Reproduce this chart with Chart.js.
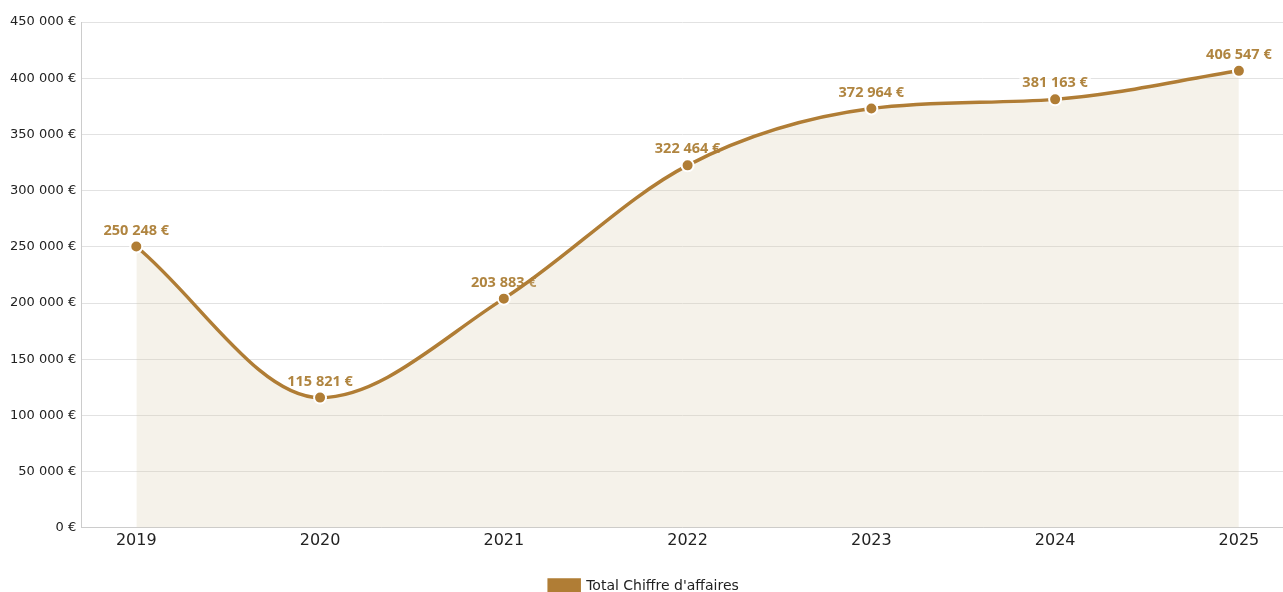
<!DOCTYPE html>
<html><head><meta charset="utf-8">
<script src="https://cdn.jsdelivr.net/npm/chart.js@4"></script>
<style>html,body{margin:0;padding:0;background:#fff;overflow:hidden}canvas{display:block;position:absolute;left:0;top:0}</style>
</head><body><canvas id="c" width="1283" height="592" style="width:1283px;height:592px"></canvas>
<script>
const years = [2019, 2020, 2021, 2022, 2023, 2024, 2025];
const revenue = [250248, 115821, 203883, 322464, 372964, 381163, 406547];
const yTicks = [0, 50000, 100000, 150000, 200000, 250000, 300000, 350000, 400000, 450000];
const seriesName = "Total Chiffre d'affaires";

const fmt = v => String(v).replace(/\B(?=(\d{3})+(?!\d))/g, '\u00A0') + '\u00A0€';
const fmtTick = v => String(v).replace(/\B(?=(\d{3})+(?!\d))/g, ' ') + ' €';

const labelPlugin = {
  id: 'vlabels',
  beforeDatasetsDraw(chart) {
    const ctx = chart.ctx;
    const meta = chart.getDatasetMeta(0);
    ctx.save();
    ctx.font = 'bold 14.5px "Open Sans"';
    ctx.textAlign = 'center';
    ctx.textBaseline = 'middle';
    meta.data.forEach((pt, i) => {
      const t = fmt(revenue[i]);
      const w = ctx.measureText(t).width;
      const y = pt.y - 16;
      ctx.fillStyle = 'rgba(255,255,255,0.75)';
      ctx.fillRect(pt.x - w / 2 - 3, y - 9, w + 6, 18);
      ctx.fillStyle = '#b08540';
      ctx.fillText(t, pt.x, y);
    });
    ctx.restore();
  }
};

new Chart(document.getElementById('c'), {
  type: 'line',
  data: {
    datasets: [{
      label: seriesName,
      data: years.map((y, i) => ({ x: y, y: revenue[i] })),
      borderColor: '#b07d35',
      backgroundColor: '#b07d35',
      borderWidth: 3.5,
      cubicInterpolationMode: 'monotone',
      fill: { target: 'origin', above: 'rgba(215,205,170,0.25)' },
      pointRadius: 6,
      pointBackgroundColor: '#b07d35',
      pointBorderColor: '#ffffff',
      pointBorderWidth: 2
    }]
  },
  options: {
    responsive: false,
    maintainAspectRatio: false,
    animation: false,
    layout: { autoPadding: false, padding: { top: 22, right: 0, left: 5, bottom: -11 } },
    plugins: {
      legend: {
        position: 'bottom',
        labels: { boxWidth: 30, boxHeight: 12, color: '#222', font: { family: 'DejaVu Sans', size: 14 }, padding: 6 }
      },
      tooltip: { enabled: false }
    },
    scales: {
      x: {
        type: 'linear',
        min: 2018.7,
        max: 2025.24,
        afterBuildTicks: s => { s.ticks = years.map(v => ({ value: v })); },
        afterFit: s => { s.paddingRight = 0; s.paddingLeft = 0; s.height += 20; },
        ticks: { callback: v => String(v), color: '#222', font: { family: 'DejaVu Sans', size: 16 }, maxRotation: 0, padding: 3 },
        grid: { display: false, drawTicks: false },
        border: { color: '#ccc' }
      },
      y: {
        min: 0, max: 450000,
        afterBuildTicks: s => { s.ticks = yTicks.map(v => ({ value: v })); },
        ticks: { callback: v => fmtTick(v), color: '#222', font: { family: 'DejaVu Sans', size: 13 }, padding: 5 },
        grid: { color: '#e2e2e2', drawTicks: false },
        border: { color: '#ccc' }
      }
    }
  },
  plugins: [labelPlugin]
});
</script></body></html>
